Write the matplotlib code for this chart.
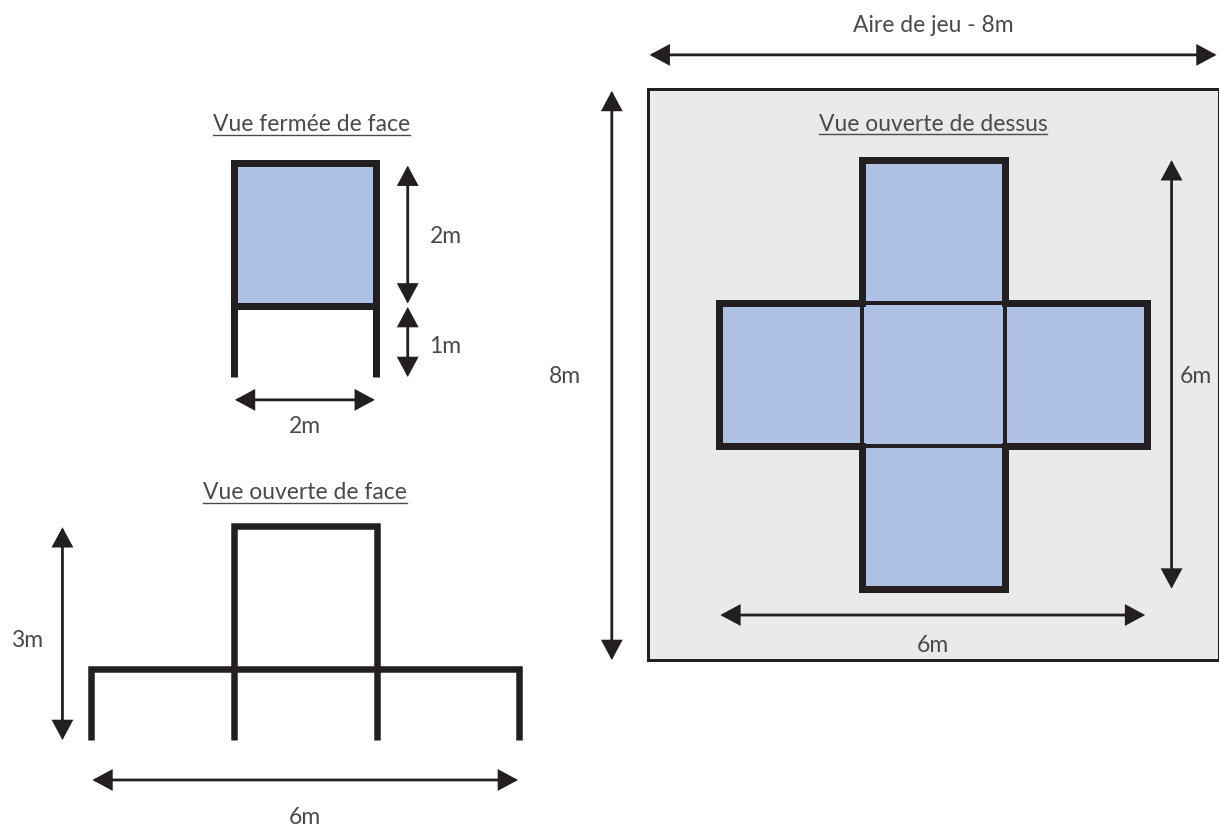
import matplotlib
matplotlib.use('Agg')
import matplotlib.pyplot as plt
from matplotlib.patches import Rectangle

plt.rcParams['font.family'] = ['Lato', 'DejaVu Sans']

# all sizes of the play area and of the structure, in metres
area_size = 8
top_squares = [(3, 5), (1, 3), (3, 3), (5, 3), (3, 1)]
center_square = (3, 3)
square_size = 2
cross_x = [3, 5, 5, 7, 7, 5, 5, 3, 3, 1, 1, 3, 3]
cross_y = [7, 7, 5, 5, 3, 3, 1, 1, 3, 3, 5, 5, 7]

closed_x = [0, 0, 2, 2]
closed_y = [0, 3, 3, 0]
closed_bar_x = [0, 2]
closed_bar_y = [1, 1]

open_box_x = [2, 2, 4, 4]
open_box_y = [0, 3, 3, 0]
open_bar_x = [0, 0, 6, 6]
open_bar_y = [0, 1, 1, 0]

titles = ['Vue fermée de face', 'Vue ouverte de face', 'Vue ouverte de dessus']
area_label = 'Aire de jeu - 8m'

dark = '#231f20'
blue = '#aec1e4'
grey = '#e9ebea'
text_col = '#4a4a4a'

W, H = 1219, 826
PX_PER_M = 71.4
PT = 72 / 100  # one pixel in points at dpi 100

fig = plt.figure(figsize=(W / 100, H / 100), dpi=100, facecolor='white')


def add_view(left, bottom, w_m, h_m):   # axes in metres, placed with pixels from top left
    ax = fig.add_axes([left / W, 1 - bottom / H, w_m * PX_PER_M / W, h_m * PX_PER_M / H])
    ax.set_xlim(0, w_m)
    ax.set_ylim(0, h_m)
    ax.axis('off')
    return ax


def arrow(ax, x0, y0, x1, y1):
    ax.annotate('', xy=(x1, y1), xytext=(x0, y0), annotation_clip=False,
                arrowprops=dict(arrowstyle='<|-|>,head_length=1.15,head_width=0.62', mutation_scale=10,
                                shrinkA=0, shrinkB=0, lw=2, color=dark, joinstyle='miter'))


def label(ax, x, y, s, size=16.5, underline=False):
    t = ax.text(x, y - 0.03, s, ha='center', va='center', fontsize=size, color=text_col, clip_on=False)
    if underline:
        box = t.get_window_extent(fig.canvas.get_renderer()).transformed(ax.transData.inverted())
        ax.plot([box.x0, box.x1], [box.y0 + 0.01] * 2, color=text_col, lw=1, clip_on=False)


def frame(ax, xs, ys, px=6.5):
    ax.plot(xs, ys, color=dark, lw=px * PT, solid_capstyle='butt', solid_joinstyle='miter', clip_on=False)


# view from above
top = add_view(647.5, 660, area_size, area_size)
top.add_patch(Rectangle((0, 0), area_size, area_size, fc=grey, ec=dark, lw=3 * PT, clip_on=False))
for sx, sy in top_squares:
    top.add_patch(Rectangle((sx, sy), square_size, square_size, fc=blue, ec='none'))
top.add_patch(Rectangle(center_square, square_size, square_size, fc='none', ec=dark, lw=4 * PT))
top.plot(cross_x, cross_y, color=dark, lw=7 * PT, solid_joinstyle='miter')
arrow(top, 0.03, 8.475, 7.97, 8.475)
arrow(top, -0.5, 0, -0.5, 7.97)
arrow(top, 7.34, 1.0, 7.34, 7.0)
arrow(top, 1.02, 0.63, 6.97, 0.63)
label(top, 4, 8.92, area_label)
label(top, 4, 7.53, titles[2], underline=True)
label(top, -1.16, 4, '8m')
label(top, 7.68, 4, '6m')
label(top, 4, 0.24, '6m')

# closed, front
closed = add_view(233.5, 377, 2, 3)
closed.add_patch(Rectangle((0, 1), 2, 2, fc=blue, ec='none'))
frame(closed, closed_x, closed_y, 7)
frame(closed, closed_bar_x, closed_bar_y, 7)
arrow(closed, 2.44, 1.03, 2.44, 2.96)
arrow(closed, 2.44, 0.0, 2.44, 0.98)
arrow(closed, 0.02, -0.32, 1.98, -0.32)
label(closed, 2.97, 2.0, '2m')
label(closed, 2.97, 0.46, '1m')
label(closed, 1, -0.66, '2m')
label(closed, 1.09, 3.56, titles[0], underline=True)

# open, front
opened = add_view(91, 740, 6, 3)
frame(opened, open_box_x, open_box_y)
frame(opened, open_bar_x, open_bar_y)
arrow(opened, -0.4, 0, -0.4, 2.98)
arrow(opened, 0.02, -0.56, 5.98, -0.56)
label(opened, -0.9, 1.43, '3m')
label(opened, 3, -1.05, '6m')
label(opened, 3, 3.49, titles[1], underline=True)

fig.savefig('out.png', dpi=100)
